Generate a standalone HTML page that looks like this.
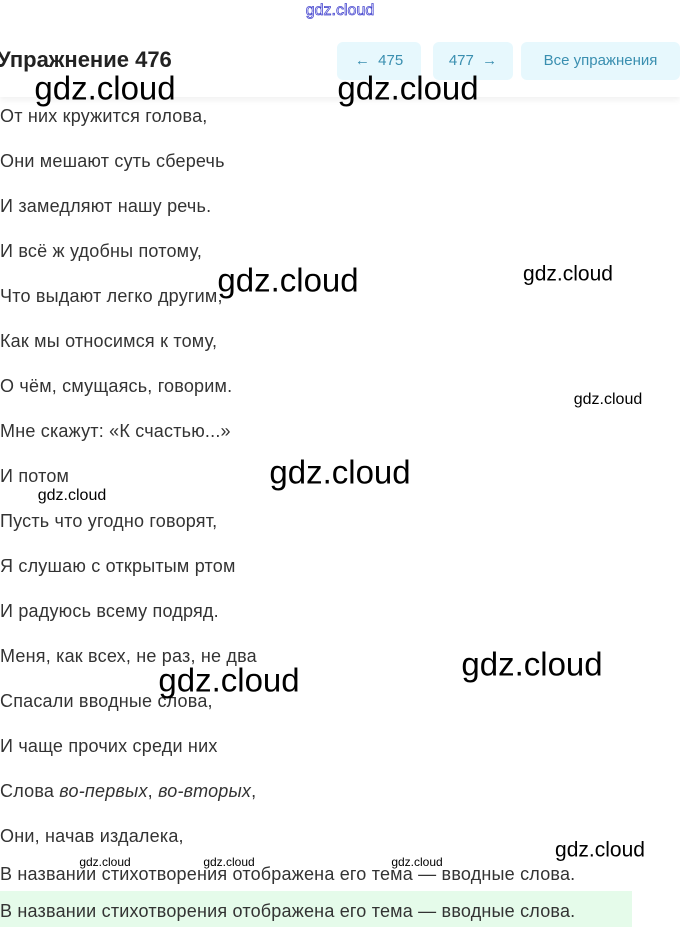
<!DOCTYPE html>
<html><head><meta charset="utf-8"><style>
body{margin:0;width:680px;height:927px;overflow:hidden;background:#fff;position:relative;font-family:"Liberation Sans",sans-serif;}
.t{position:absolute;left:0;font-size:18px;color:#333;line-height:20px;white-space:nowrap;letter-spacing:0.2px;}
.w{position:absolute;color:#000;font-family:"Liberation Sans",sans-serif;white-space:nowrap;transform:translate(-50%,-50%);line-height:1;}
.b{position:absolute;top:42px;height:38px;background:#e7f8fd;border-radius:6px;color:#3a8fb0;font-size:15px;line-height:38px;text-align:center;}
</style></head><body>
<div style="position:absolute;left:0;top:0;width:680px;height:97px;box-shadow:0 3px 6px rgba(0,0,0,0.06);background:#fff"></div>
<div class="w" style="left:340px;top:11px;font-size:16px;color:#fff;-webkit-text-stroke:0.8px #4a4ad0">gdz.cloud</div>
<div style="position:absolute;left:-3px;top:47px;font-size:22px;font-weight:bold;color:#222">Упражнение 476</div>
<div class="b" style="left:337px;width:84px">←&nbsp;&nbsp;475</div>
<div class="b" style="left:433px;width:80px">477&nbsp;&nbsp;→</div>
<div class="b" style="left:521px;width:159px">Все упражнения</div>
<div style="position:absolute;left:0;top:891px;width:632px;height:36px;background:#e5fbea"></div>
<div class="t" style="top:106px">От них кружится голова,</div>
<div class="t" style="top:151px">Они мешают суть сберечь</div>
<div class="t" style="top:196px">И замедляют нашу речь.</div>
<div class="t" style="top:241px">И всё ж удобны потому,</div>
<div class="t" style="top:286px">Что выдают легко другим,</div>
<div class="t" style="top:331px">Как мы относимся к тому,</div>
<div class="t" style="top:376px">О чём, смущаясь, говорим.</div>
<div class="t" style="top:421px">Мне скажут: «К счастью...»</div>
<div class="t" style="top:466px">И потом</div>
<div class="t" style="top:511px">Пусть что угодно говорят,</div>
<div class="t" style="top:556px">Я слушаю с открытым ртом</div>
<div class="t" style="top:601px">И радуюсь всему подряд.</div>
<div class="t" style="top:646px">Меня, как всех, не раз, не два</div>
<div class="t" style="top:691px">Спасали вводные слова,</div>
<div class="t" style="top:736px">И чаще прочих среди них</div>
<div class="t" style="top:781px">Слова <i>во-первых</i>, <i>во-вторых</i>,</div>
<div class="t" style="top:826px">Они, начав издалека,</div>
<div class="t" style="top:864px">В названии стихотворения отображена его тема — вводные слова.</div>
<div class="t" style="top:901px">В названии стихотворения отображена его тема — вводные слова.</div>
<div class="w" style="left:105px;top:88px;font-size:33px">gdz.cloud</div>
<div class="w" style="left:408px;top:88px;font-size:33px">gdz.cloud</div>
<div class="w" style="left:288px;top:280px;font-size:33px">gdz.cloud</div>
<div class="w" style="left:340px;top:472px;font-size:33px">gdz.cloud</div>
<div class="w" style="left:532px;top:664px;font-size:33px">gdz.cloud</div>
<div class="w" style="left:229px;top:680px;font-size:33px">gdz.cloud</div>
<div class="w" style="left:568px;top:274px;font-size:21px">gdz.cloud</div>
<div class="w" style="left:600px;top:850px;font-size:21px">gdz.cloud</div>
<div class="w" style="left:608px;top:400px;font-size:16px">gdz.cloud</div>
<div class="w" style="left:72px;top:496px;font-size:16px">gdz.cloud</div>
<div class="w" style="left:105px;top:862px;font-size:12px">gdz.cloud</div>
<div class="w" style="left:229px;top:862px;font-size:12px">gdz.cloud</div>
<div class="w" style="left:417px;top:862px;font-size:12px">gdz.cloud</div>
</body></html>
